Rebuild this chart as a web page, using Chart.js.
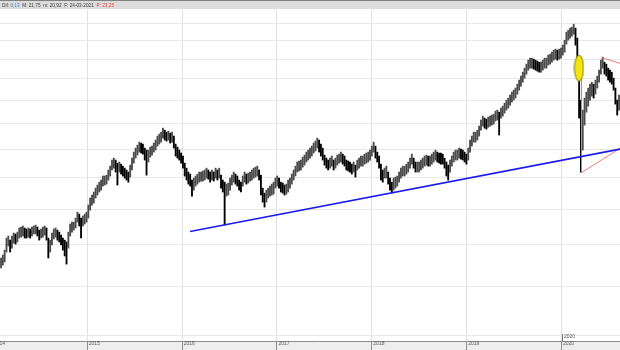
<!DOCTYPE html>
<html>
<head>
<meta charset="utf-8">
<script src="https://cdn.jsdelivr.net/npm/chart.js@4.4.1/dist/chart.umd.min.js"></script>
<style>
  html, body { margin: 0; padding: 0; background: #fff; overflow: hidden; }
  #wrap { position: relative; width: 620px; height: 350px; overflow: hidden; }
  #chart { position: absolute; left: -12px; top: 0; }
</style>
</head>
<body>
<div id="wrap"><canvas id="chart" width="660" height="350"></canvas></div>
<script>
// weekly bars, first one is the week of 3 Feb 2014
const firstWeek = '2014-02-03';

const weekHigh = [
  // 2014
  13.33,13.48,13.73,14.36,14.47,14.25,14.47,14.63,14.58,14.68,14.91,14.96,15.02,14.91,14.85,14.91,
  14.85,14.96,15.02,15.07,14.96,14.79,14.85,14.96,15.02,14.91,14.36,14.25,14.63,14.85,14.91,14.79,
  14.68,14.52,14.36,14.25,14.15,14.68,15.13,15.24,15.24,15.47,15.82,15.70,15.47,15.59,15.70,15.82,
  // 2015
  16.24,16.67,16.86,17.05,17.30,17.50,17.69,17.83,18.10,18.10,18.16,18.51,18.78,19.21,19.35,19.21,
  18.99,19.07,18.92,18.78,18.64,18.51,18.37,18.85,19.35,19.79,20.09,20.31,20.54,20.47,20.39,20.09,
  19.94,19.94,20.16,20.24,20.47,20.70,21.01,21.17,21.32,21.64,21.48,21.32,21.40,21.24,21.32,21.01,
  20.39,20.16,19.94,19.72,
  // 2016
  19.50,18.99,18.64,18.37,18.23,17.83,17.96,18.10,18.23,18.37,18.37,18.44,18.51,18.64,18.51,18.37,
  18.51,18.37,18.64,18.51,18.64,18.16,17.83,17.69,17.56,17.63,17.96,18.16,18.37,18.23,18.10,17.83,
  17.69,18.10,18.37,18.23,18.30,18.37,18.51,18.64,18.71,18.78,18.51,18.16,17.30,16.98,17.17,17.30,
  17.43,17.56,17.69,17.96,18.10,
  // 2017
  17.96,17.69,17.63,17.50,17.56,17.83,17.96,18.23,18.51,18.78,19.07,19.14,19.21,19.42,19.57,19.79,
  19.94,20.09,20.24,20.47,20.62,20.85,20.70,20.39,20.09,19.57,19.35,19.21,19.35,19.50,19.21,19.35,
  19.57,19.64,19.79,19.64,19.50,19.21,19.14,19.07,18.92,19.07,18.85,19.21,19.35,19.50,19.50,19.64,
  19.72,19.79,19.94,20.24,20.54,
  // 2018
  20.24,19.79,19.50,18.92,18.51,18.64,18.78,18.37,17.96,17.69,17.96,18.03,18.10,18.37,18.64,18.78,
  18.78,18.92,19.07,19.35,19.64,19.35,19.07,19.07,19.07,19.21,19.35,19.50,19.57,19.50,19.50,19.64,
  19.79,19.94,19.79,19.72,19.72,19.64,19.35,19.07,18.85,19.21,19.50,19.79,19.94,19.94,20.09,20.01,
  19.94,19.79,19.64,20.09,20.70,
  // 2019
  21.01,21.32,21.32,21.48,21.81,22.30,22.63,22.47,22.38,22.55,22.63,22.72,22.80,23.06,23.15,22.97,
  23.32,23.49,23.76,24.03,24.21,24.48,24.75,24.94,25.13,25.50,25.89,26.28,26.67,27.07,27.48,27.89,
  28.10,28.10,28.00,27.89,27.79,27.68,27.68,27.89,28.10,28.10,28.42,28.52,28.74,28.95,29.06,28.95,
  29.06,29.17,29.50,30.05,30.96,
  // 2020
  31.19,31.43,31.54,31.90,31.43,30.28,26.87,24.03,23.15,24.21,24.75,25.13,25.50,25.69,25.50,25.89,
  26.28,26.87,27.89,28.21,27.68,27.48,27.07,26.87,26.67,26.08,25.13,24.03,24.48
];

const weekLow = [
  // 2014
  12.84,12.98,13.13,13.63,13.94,13.63,13.83,14.09,14.04,14.15,14.36,14.41,14.47,14.36,14.36,14.41,
  14.36,14.47,14.58,14.58,14.47,14.25,14.36,14.41,14.52,14.25,13.33,13.63,13.99,14.31,14.41,14.25,
  14.15,13.99,13.73,13.43,13.03,13.83,14.47,14.68,14.79,14.91,15.24,15.02,14.36,15.02,15.13,15.24,
  // 2015
  15.47,15.94,16.24,16.36,16.67,16.86,17.05,17.17,17.43,17.50,17.56,17.83,18.10,18.51,18.64,18.37,
  17.50,18.37,18.23,18.10,17.96,17.83,17.69,18.03,18.51,18.99,19.35,19.57,19.79,19.72,19.64,19.21,
  18.16,19.07,19.42,19.57,19.79,19.94,20.24,20.39,20.54,20.85,20.70,20.62,20.70,20.47,20.54,20.09,
  19.50,19.35,19.21,18.99,
  // 2016
  18.64,18.10,17.83,17.56,17.43,16.79,17.17,17.43,17.56,17.69,17.76,17.76,17.83,17.96,17.89,17.69,
  17.83,17.76,17.96,17.83,17.96,17.30,17.05,15.07,16.79,16.86,17.17,17.50,17.69,17.56,17.43,17.17,
  17.05,17.43,17.69,17.56,17.63,17.76,17.83,17.96,18.03,18.10,17.83,16.86,16.42,16.12,16.42,16.67,
  16.79,16.86,16.92,17.30,17.43,
  // 2017
  17.30,17.05,16.98,16.86,16.92,17.05,17.30,17.56,17.83,18.10,18.37,18.44,18.51,18.71,18.85,19.07,
  19.21,19.35,19.50,19.72,19.87,20.09,19.79,19.50,19.21,18.85,18.64,18.51,18.64,18.78,18.51,18.64,
  18.85,18.99,19.07,18.92,18.78,18.51,18.44,18.37,18.23,18.37,18.03,18.51,18.64,18.78,18.78,18.92,
  18.99,19.07,19.21,19.50,19.79,
  // 2018
  19.35,19.07,18.64,17.83,17.69,17.96,17.96,17.56,17.17,16.98,17.17,17.30,17.43,17.69,17.96,18.10,
  18.10,18.23,18.37,18.64,18.92,18.64,18.37,18.37,18.37,18.51,18.64,18.78,18.85,18.78,18.78,18.92,
  19.07,19.21,19.07,18.99,18.92,18.92,18.64,18.10,17.83,18.37,18.78,19.07,19.21,19.21,19.35,19.28,
  19.21,19.07,18.92,19.21,19.79,
  // 2019
  20.24,20.54,20.54,20.70,21.01,21.48,21.81,21.64,21.56,21.72,21.81,21.89,21.97,22.22,22.30,21.09,
  22.47,22.63,22.89,23.15,23.32,23.58,23.85,24.03,24.21,24.57,24.94,25.31,25.69,26.08,26.47,26.87,
  27.07,27.07,26.97,26.87,26.77,26.67,26.67,26.87,27.07,27.07,27.38,27.48,27.68,27.89,28.00,27.89,
  28.00,28.10,28.42,28.74,29.61,
  // 2020
  30.05,30.28,30.50,30.73,29.50,26.08,22.47,18.37,19.94,21.89,22.97,23.49,24.03,24.39,24.21,24.57,
  25.13,25.69,26.47,27.07,26.47,26.28,25.89,25.69,25.50,24.94,23.67,22.72,23.15
];

const yearTicks = [2014, 2015, 2016, 2017, 2018, 2019, 2020];
const priceGrid = [10, 12, 14, 16, 18, 20, 22, 24, 26, 28, 30, 32];

// drawn objects: support line, triangle, highlighted crash
const supportLine = [{ x: 2016.083, y: 14.71 }, { x: 2020.617, y: 20.01 }];
const triangleLow = [{ x: 2020.211, y: 18.33 }, { x: 2020.617, y: 20.07 }];
const triangleHigh = [{ x: 2020.424, y: 28.17 }, { x: 2020.617, y: 27.55 }];
const crashLine = [{ x: 2020.211, y: 28.21 }, { x: 2020.211, y: 18.33 }];
const crashMark = [{ x: 2020.184, y: 27.07 }];

const headerParts = [
  { text: 'Dif: ', color: '#3c3c3c' },
  { text: '0,13', color: '#3d7fe0' },
  { text: '  M: 21,75  m: 20,92  F: 24-03-2021  ', color: '#3c3c3c' },
  { text: 'P: 23,25', color: '#e83a3a' }
];
const markerYear = 2020;

function decimalYear(t) {
  const d = new Date(t);
  const y = d.getUTCFullYear();
  const a = Date.UTC(y, 0, 1), b = Date.UTC(y + 1, 0, 1);
  return y + (t - a) / (b - a);
}

const t0 = Date.parse(firstWeek + 'T00:00:00Z');
const weekX = weekHigh.map((_, i) => decimalYear(t0 + i * 7 * 864e5));
const bars = weekHigh.map((h, i) => ({ x: weekX[i], y: [weekLow[i], h] }));
const barColors = weekHigh.map((h, i) => {
  if (i === 0) return '#4c4c4c';
  const mid = (h + weekLow[i]) / 2, prev = (weekHigh[i - 1] + weekLow[i - 1]) / 2;
  return mid < prev ? '#000000' : '#4c4c4c';
});

// yellow ellipse used as point image
const ellipse = document.createElement('canvas');
ellipse.width = 11;
ellipse.height = 28;
(function () {
  const c = ellipse.getContext('2d');
  c.beginPath();
  c.ellipse(5.5, 14, 4.5, 13, 0, 0, Math.PI * 2);
  c.fillStyle = '#f4e410';
  c.fill();
  c.lineWidth = 1;
  c.strokeStyle = '#8a8200';
  c.stroke();
})();

const frame = {
  id: 'frame',
  beforeDraw(chart) {
    const { ctx, chartArea, width, height } = chart;
    ctx.save();
    ctx.fillStyle = '#dcdcdc';
    ctx.fillRect(0, 0, width, chartArea.top - 1);
    ctx.fillStyle = '#808080';
    ctx.fillRect(0, 0, width, 1);
    ctx.fillStyle = '#eeeeee';
    ctx.fillRect(0, chartArea.bottom, width, height - chartArea.bottom);
    ctx.restore();
  },
  afterDraw(chart) {
    const { ctx, chartArea } = chart;
    ctx.save();
    ctx.font = '6px "Liberation Sans", Arial, sans-serif';
    ctx.textBaseline = 'middle';
    const total = headerParts.reduce((w, p) => w + ctx.measureText(p.text).width, 0);
    ctx.translate(14, 5);
    ctx.scale(112 / total, 1);
    let x = 0;
    headerParts.forEach(p => {
      ctx.fillStyle = p.color;
      ctx.fillText(p.text, x, 0);
      x += ctx.measureText(p.text).width;
    });
    ctx.restore();

    const px = Math.round(chart.scales.x.getPixelForValue(markerYear)) + 0.5;
    ctx.save();
    ctx.strokeStyle = '#777';
    ctx.lineWidth = 1;
    ctx.beginPath();
    ctx.moveTo(px, chartArea.bottom - 7);
    ctx.lineTo(px, chartArea.bottom);
    ctx.stroke();
    ctx.fillStyle = '#555';
    ctx.font = '5px "Liberation Sans", Arial, sans-serif';
    ctx.textBaseline = 'middle';
    ctx.fillText(String(markerYear), px + 1.5, chartArea.bottom - 4.5);
    ctx.restore();
  }
};

new Chart(document.getElementById('chart'), {
  type: 'bar',
  data: {
    datasets: [
      { type: 'scatter', data: crashMark, pointStyle: ellipse, pointRadius: 3, order: 0 },
      { type: 'line', data: supportLine, borderColor: '#1c1cf0', borderWidth: 1.6, pointRadius: 0, order: 1 },
      { type: 'line', data: triangleLow, borderColor: '#f07a7a', borderWidth: 1, pointRadius: 0, order: 1 },
      { type: 'line', data: triangleHigh, borderColor: '#f07a7a', borderWidth: 1, pointRadius: 0, order: 1 },
      { type: 'line', data: crashLine, borderColor: '#9a9a9a', borderWidth: 1, pointRadius: 0, order: 2 },
      { type: 'bar', data: bars, backgroundColor: barColors, barThickness: 1.2, borderWidth: 0, order: 3 }
    ]
  },
  options: {
    responsive: false,
    animation: false,
    devicePixelRatio: 1,
    layout: { autoPadding: false, padding: { top: 10, left: 0, right: 0, bottom: 0 } },
    plugins: { legend: { display: false }, tooltip: { enabled: false } },
    scales: {
      x: {
        type: 'linear',
        min: 2013.953,
        max: 2020.912,
        offset: false,
        afterBuildTicks: s => { s.ticks = yearTicks.map(v => ({ value: v })); },
        afterFit: s => { s.height = 9; },
        grid: { offset: false, color: '#e0e0e0', borderDash: [1, 2], tickLength: 9, tickColor: '#8e8e8e', tickBorderDash: [] },
        border: { color: '#8c8c8c' },
        ticks: {
          align: 'start', labelOffset: 1.5, padding: -9, maxRotation: 0, autoSkip: false,
          color: '#555', font: { family: 'Liberation Sans', size: 5 },
          callback: v => String(v)
        }
      },
      y: {
        type: 'logarithmic',
        min: 9.779,
        max: 33.63,
        afterBuildTicks: s => { s.ticks = priceGrid.map(v => ({ value: v })); },
        afterFit: s => { s.width = 0; },
        ticks: { display: false },
        grid: { color: '#e8e8e8', drawTicks: false },
        border: { display: false }
      }
    }
  },
  plugins: [frame]
});
</script>
</body>
</html>
